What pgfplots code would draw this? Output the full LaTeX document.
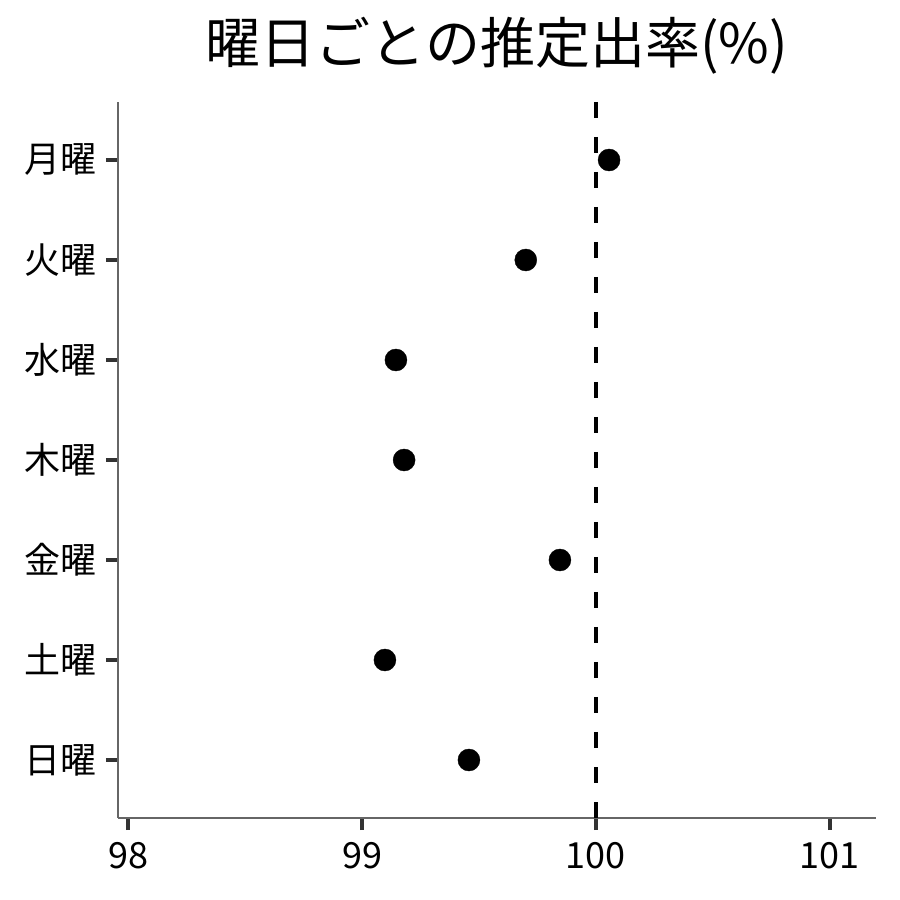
\documentclass[border=0pt]{standalone}
\usepackage{pgfplots}
\pgfplotsset{compat=1.18}
\usepackage{fontspec}
\setmainfont{Noto Sans CJK JP}

\definecolor{axisgray}{HTML}{666666}
\definecolor{tickgray}{HTML}{333333}

\begin{document}
\begin{tikzpicture}
\begin{axis}[
    scale only axis,
    width=758pt,
    height=716pt,
    xmin=97.957, xmax=101.197,
    ymin=-0.58, ymax=6.58,
    axis x line*=bottom,
    axis y line*=left,
    axis line style={axisgray, line width=1.3pt},
    xtick={98,99,100,101},
    ytick={0,1,2,3,4,5,6},
    yticklabels={日曜,土曜,金曜,木曜,水曜,火曜,月曜},
    tick align=outside,
    tick pos=left,
    major tick length=12pt,
    tick style={tickgray, line width=3.5pt},
    ticklabel style={font=\fontsize{36}{43}\selectfont},
    xticklabel style={yshift=-9pt},
    yticklabel style={xshift=-6pt},
    /pgf/number format/assume math mode=true,
    clip=false,
]
\coordinate (sw) at (rel axis cs:0,0);

% reference line at 100
\draw[black, line width=3.8pt, dash pattern=on 16pt off 19pt]
    (axis cs:100,6.58) -- (axis cs:100,-0.58);

% estimated rate per weekday
\addplot[only marks, mark=*, mark size=11pt, black, mark options={fill=black}] coordinates {
    (100.056,6) (99.70,5) (99.145,4) (99.18,3) (99.846,2) (99.098,1) (99.457,0)
};
\end{axis}
\node[font=\fontsize{55}{64}\selectfont] at ([shift={(379pt,772pt)}]sw) {曜日ごとの推定出率(\%)};
\path ([shift={(-118pt,-82pt)}]sw) rectangle ([shift={(782pt,818pt)}]sw);
\end{tikzpicture}
\end{document}
